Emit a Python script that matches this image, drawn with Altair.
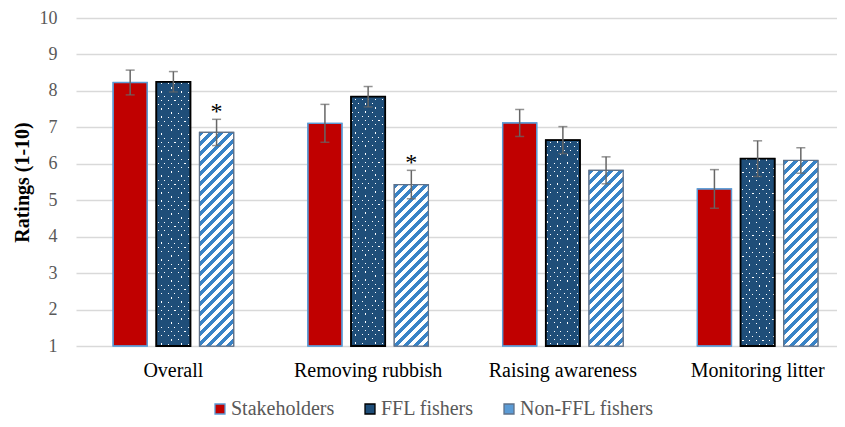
import altair as alt
import pandas as pd

# ---------------- data ----------------
categories = ["Overall", "Removing rubbish", "Raising awareness", "Monitoring litter"]
series_names = ["Stakeholders", "FFL fishers", "Non-FFL fishers"]
stakeholders = [8.23, 7.11, 7.12, 5.31]
ffl_fishers = [8.25, 7.84, 6.65, 6.14]
nonffl_fishers = [6.86, 5.43, 5.82, 6.09]
stakeholders_err = [0.34, 0.52, 0.37, 0.53]
ffl_err = [0.28, 0.28, 0.37, 0.49]
nonffl_err = [0.36, 0.39, 0.37, 0.35]
nonffl_sig = [True, True, False, False]

rows = []
for i, c in enumerate(categories):
    for s, vals, errs in zip(series_names,
                             [stakeholders, ffl_fishers, nonffl_fishers],
                             [stakeholders_err, ffl_err, nonffl_err]):
        rows.append({
            "category": c, "series": s, "value": vals[i], "err": errs[i],
            "lo": round(vals[i] - errs[i], 3), "hi": round(vals[i] + errs[i], 3),
            "sig": "*" if (s == "Non-FFL fishers" and nonffl_sig[i]) else "",
        })
df = pd.DataFrame(rows)

# ---------------- layout / style ----------------
W, H = 761, 328
PAD_L, PAD_T = 68, 10
X_RANGE = 779
PI_X, PO_X = 0.3345, 0.16725
PI_O, PO_O = 0.21, 0.105
STEP = X_RANGE / 4
BAND = STEP * (1 - PI_X)
BW = BAND / (3 - PI_O + 2 * PO_O) * (1 - PI_O)  # bar width px
PX = H / 9.0  # px per rating unit

FONT = "Liberation Serif"
NAVY = "#1F4E79"
RED = "#C00000"
STRIPE = "#3983C6"
TRANSP = "rgba(31,78,121,0)"


def r4(x):
    return round(x, 4)


def stripe_grad(v, period=10.0, frac=0.5):
    h = (v - 1) * PX
    w = BW
    L = w + h
    k = L / (w * w + h * h)
    stops = []
    i = 0
    while i * period < L:
        s0 = min(i * period / L, 1)
        s1 = min((i * period + frac * period) / L, 1)
        s2 = min((i + 1) * period / L, 1)
        stops += [(s0, STRIPE), (s1, STRIPE), (s1, "#FFFFFF"), (s2, "#FFFFFF")]
        i += 1
    return {"gradient": "linear", "x1": 0, "y1": 0, "x2": r4(k * w), "y2": r4(k * h),
            "stops": [{"offset": r4(o), "color": c} for o, c in stops]}


def slit_stops(U, d=0.19):
    stops = [(0, TRANSP), (d / U, TRANSP), (d / U, NAVY)]
    m = 1
    while 2 * m - d < U:
        a = (2 * m - d) / U
        b = min((2 * m + d) / U, 1)
        stops += [(a, NAVY), (a, TRANSP), (b, TRANSP), (b, NAVY)]
        m += 1
    stops.append((1, NAVY))
    return [{"offset": r4(min(o, 1)), "color": c} for o, c in stops]


def dot_grads(v, A=3.35, B=4.2):
    h = (v - 1) * PX
    w = BW
    U = w / A + h / B
    D = (w / A) ** 2 + (h / B) ** 2
    K = U / D
    st = slit_stops(U)
    gA = {"gradient": "linear", "x1": 0, "y1": 0, "x2": r4(K * w / A), "y2": r4(K * h / B), "stops": st}
    gB = {"gradient": "linear", "x1": 0, "y1": 1, "x2": r4(K * w / A), "y2": r4(1 - K * h / B), "stops": st}
    return gA, gB


def cond_fill(grads):
    return alt.FillValue(
        value="transparent",
        condition=[{"test": f"datum.category === '{c}'", "value": g} for c, g in zip(categories, grads)],
    )


x_axis = alt.Axis(title=None, domain=False, ticks=False, labelAngle=0, labelPadding=14,
                  labelFont=FONT, labelFontSize=20, labelColor="#000000")
y_axis = alt.Axis(title="Ratings (1-10)", values=list(range(1, 11)), domain=False, ticks=False,
                  labelOverlap=False, labelPadding=19, labelFont=FONT, labelFontSize=18,
                  labelColor="#595959",
                  titleFont=FONT, titleFontSize=20, titleFontWeight="bold", titleColor="#000000",
                  titlePadding=7, grid=True, gridColor="#D9D9D9", gridWidth=1.3)
y_scale = alt.Scale(domain=[1, 10], nice=False, zero=False)

x_enc = alt.X("category:N", sort=categories,
              scale=alt.Scale(domain=categories, range=[0, X_RANGE], paddingInner=PI_X, paddingOuter=PO_X),
              axis=x_axis)
xo_enc = alt.XOffset("series:N", sort=series_names,
                     scale=alt.Scale(domain=series_names, paddingInner=PI_O, paddingOuter=PO_O))
y_enc = alt.Y("value:Q", scale=y_scale, axis=y_axis)
y_lo = alt.Y("lo:Q", scale=y_scale, axis=y_axis)
y_hi = alt.Y("hi:Q", scale=y_scale, axis=y_axis)

legend = alt.Legend(orient="none", legendX=134, legendY=381, direction="horizontal", title=None,
                    symbolType="square", symbolSize=100, symbolStrokeWidth=1.3,
                    labelFont=FONT, labelFontSize=20, labelColor="#595959",
                    columnPadding=25, labelOffset=1)
fill_scale = alt.Scale(domain=series_names, range=[RED, NAVY, "#5B9BD5"])
stroke_scale = alt.Scale(domain=series_names, range=["#5B9BD5", "#000000", "#5F7189"])

base = alt.Chart(df)

bars = base.mark_bar(strokeWidth=1.3).encode(
    x=x_enc, xOffset=xo_enc, y=y_enc, y2=alt.datum(1),
    fill=alt.Fill("series:N", sort=series_names, scale=fill_scale, legend=legend),
    stroke=alt.Stroke("series:N", sort=series_names, scale=stroke_scale, legend=legend),
)

ffl_only = base.transform_filter(alt.datum.series == "FFL fishers")
non_only = base.transform_filter(alt.datum.series == "Non-FFL fishers")

dgA, dgB = zip(*[dot_grads(v) for v in ffl_fishers])
sg = [stripe_grad(v) for v in nonffl_fishers]

white_l = ffl_only.mark_bar(fill="#FFFFFF").encode(x=x_enc, xOffset=xo_enc, y=y_enc, y2=alt.datum(1))
dotA_l = ffl_only.mark_bar().encode(x=x_enc, xOffset=xo_enc, y=y_enc, y2=alt.datum(1), fill=cond_fill(dgA))
dotB_l = ffl_only.mark_bar().encode(x=x_enc, xOffset=xo_enc, y=y_enc, y2=alt.datum(1), fill=cond_fill(dgB))
stripe_l = non_only.mark_bar().encode(x=x_enc, xOffset=xo_enc, y=y_enc, y2=alt.datum(1), fill=cond_fill(sg))

border_l = base.mark_bar(fill="transparent").encode(
    x=x_enc, xOffset=xo_enc, y=y_enc, y2=alt.datum(1),
    stroke=alt.Stroke("series:N", sort=series_names, scale=stroke_scale, legend=legend),
    strokeWidth=alt.condition(alt.datum.series == "FFL fishers", alt.value(1.8), alt.value(1.2)),
)

ERR_C = "#666666"
err_rule = base.mark_rule(color=ERR_C, strokeWidth=1.5).encode(
    x=x_enc, xOffset=xo_enc, y=y_lo, y2="hi:Q")
cap_hi = base.mark_tick(color=ERR_C, thickness=1.5, size=9).encode(x=x_enc, xOffset=xo_enc, y=y_hi)
cap_lo = base.mark_tick(color=ERR_C, thickness=1.5, size=9).encode(x=x_enc, xOffset=xo_enc, y=y_lo)

stars = base.transform_filter(alt.datum.sig != "").mark_text(
    font=FONT, fontSize=24, color="#000000", baseline="alphabetic", align="center", dy=0
).encode(x=x_enc, xOffset=xo_enc, y=y_hi, text="sig:N")

chart = alt.layer(bars, white_l, dotA_l, dotB_l, stripe_l, border_l, err_rule, cap_hi, cap_lo, stars).properties(
    width=W, height=H,
    autosize=alt.AutoSizeParams(type="none"),
    padding={"left": PAD_L, "top": PAD_T, "right": 0, "bottom": 73},
).configure(
    background="#FFFFFF", font=FONT
).configure_view(
    stroke=None
).configure_axis(
    labelFont=FONT, titleFont=FONT, labelOverlap=False
).configure_legend(
    labelFont=FONT, labelFontSize=20, labelColor="#595959"
)

chart.save("out.html", embed_options={"renderer": "svg", "actions": False})
